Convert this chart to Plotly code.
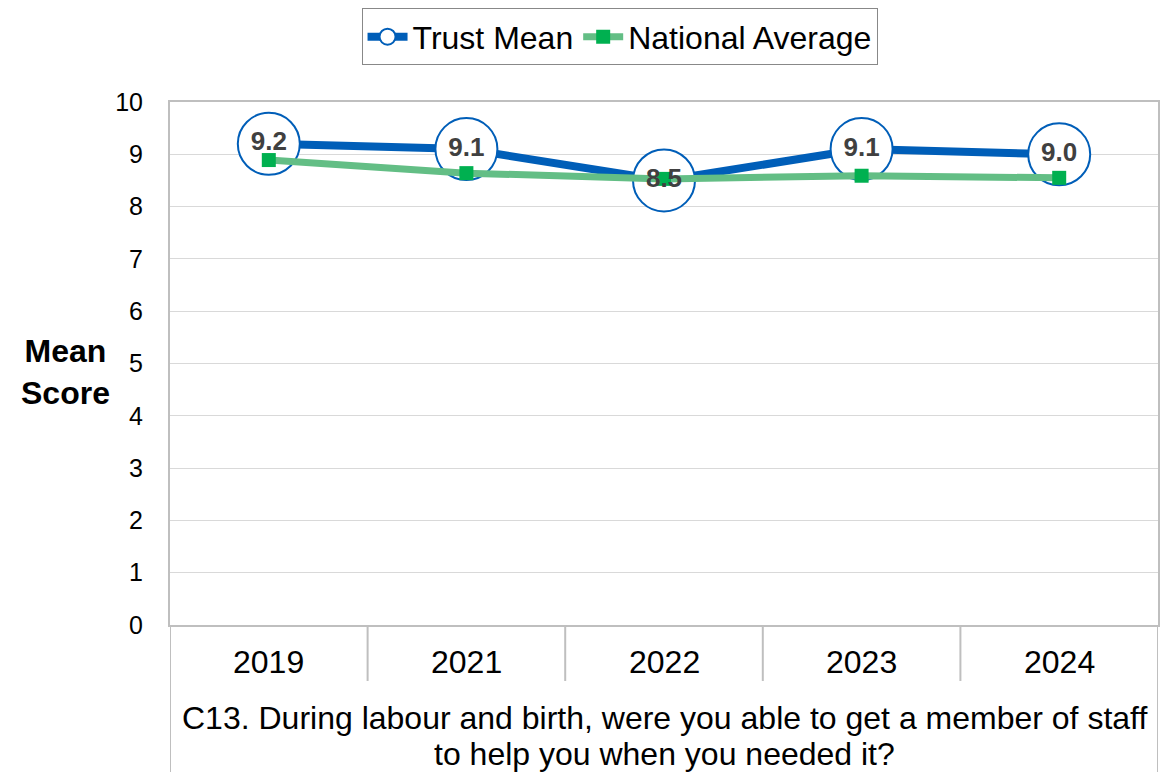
import plotly.graph_objects as go

years = ["2019", "2021", "2022", "2023", "2024"]
trust_mean = [9.2, 9.1, 8.5, 9.1, 9.0]
national_avg = [8.89, 8.64, 8.53, 8.59, 8.55]
trust_labels = ["9.2", "9.1", "8.5", "9.1", "9.0"]
y_ticks = [0, 1, 2, 3, 4, 5, 6, 7, 8, 9, 10]
question_lines = ["C13. During labour and birth, were you able to get a member of staff",
                  "to help you when you needed it?"]

FONT = "Arial, Liberation Sans, sans-serif"
BLUE = "#005EB8"
GREEN_LINE = "#63BE85"
GREEN_MARK = "#00B050"
GRID = "#D9D9D9"
BORDER = "#BFBFBF"

fig = go.Figure()
fig.add_trace(go.Scatter(
    x=years, y=trust_mean, mode="lines+markers", name="Trust Mean",
    line=dict(color=BLUE, width=8),
    marker=dict(symbol="circle", size=62, color="white", line=dict(color=BLUE, width=2)),
))
fig.add_trace(go.Scatter(
    x=years, y=national_avg, mode="lines+markers", name="National Average",
    line=dict(color=GREEN_LINE, width=7),
    marker=dict(symbol="square", size=14, color=GREEN_MARK),
))
fig.add_trace(go.Scatter(
    x=years, y=trust_mean, mode="text", text=trust_labels, showlegend=False,
    textposition="middle center", hoverinfo="skip",
    textfont=dict(family=FONT, size=26, color="#404040", weight="bold"),
))

shapes = []
for xv in [-0.5, 4.5]:
    shapes.append(dict(type="line", xref="x", yref="paper", x0=xv, x1=xv, y0=0, y1=-0.3,
                       line=dict(color=BORDER, width=2)))
for i in range(1, len(years)):
    shapes.append(dict(type="line", xref="x", yref="paper", x0=i - 0.5, x1=i - 0.5, y0=0, y1=-0.107,
                       line=dict(color=BORDER, width=2)))

annotations = []
for i, yr in enumerate(years):
    annotations.append(dict(x=i, y=-0.071, xref="x", yref="paper", text=yr, showarrow=False,
                            font=dict(family=FONT, size=32, color="black"), yanchor="middle"))
for j, (line_text, yp) in enumerate(zip(question_lines, [-0.177, -0.247])):
    annotations.append(dict(x=0.5, y=yp, xref="paper", yref="paper", text=line_text, showarrow=False,
                            font=dict(family=FONT, size=32, color="black"), yanchor="middle"))
annotations.append(dict(x=-0.106, y=0.484, xref="paper", yref="paper", text="<b>Mean<br>Score</b>",
                        showarrow=False, font=dict(family=FONT, size=32, color="black"),
                        xanchor="center", yanchor="middle"))

fig.update_layout(
    width=1160, height=764,
    margin=dict(l=162, r=10, t=94, b=147, autoexpand=False),
    paper_bgcolor="white", plot_bgcolor="white",
    font=dict(family=FONT, color="black"),
    showlegend=True,
    legend=dict(orientation="h", x=0.455, xanchor="center", y=1.179, yanchor="top",
                font=dict(family=FONT, size=32, color="black"),
                bordercolor="#888888", borderwidth=1, bgcolor="white",
                itemwidth=40, tracegroupgap=0),
    xaxis=dict(type="category", showticklabels=False, showgrid=False, range=[-0.5, 4.5],
               showline=True, linecolor=BORDER, linewidth=2, mirror=True, ticks="",
               automargin=False),
    yaxis=dict(range=[0, 10], tickvals=y_ticks, showgrid=True, gridcolor=GRID, gridwidth=1,
               showline=True, linecolor=BORDER, linewidth=2, mirror=True, ticks="",
               zeroline=False, tickfont=dict(family=FONT, size=25, color="black"),
               ticklabelstandoff=20, automargin=False),
    shapes=shapes, annotations=annotations,
)

fig.write_html("out.html")
